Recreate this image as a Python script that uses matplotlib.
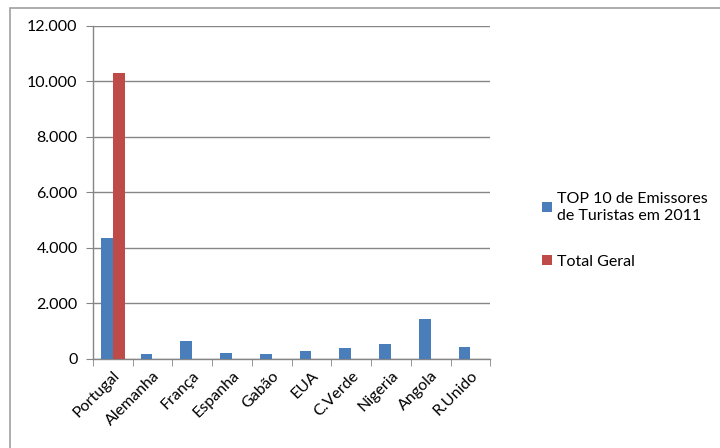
import matplotlib.pyplot as plt
import matplotlib.patches as patches
import numpy as np
from matplotlib.ticker import FuncFormatter

plt.rcParams['font.family'] = ['Lato', 'DejaVu Sans']

# dados
paises = ['Portugal', 'Alemanha', 'França', 'Espanha', 'Gabão', 'EUA',
          'C.Verde', 'Nigeria', 'Angola', 'R.Unido']
top10 = [4350, 180, 650, 200, 170, 280, 400, 540, 1450, 430]
total_geral = [10300, np.nan, np.nan, np.nan, np.nan, np.nan, np.nan, np.nan, np.nan, np.nan]

azul = '#4a7ebb'
vermelho = '#be4b48'
cinza = '#868686'

fig = plt.figure(figsize=(7.2, 4.48), dpi=100)
ax = fig.add_axes([0.129, 0.199, 0.552, 0.743])

# moldura exterior
fig.patches.append(patches.Rectangle((10/720, -0.1), 1.2, 1.1 - 8/448, transform=fig.transFigure,
                                     fill=False, edgecolor='#a0a0a0', linewidth=1.2))

x = np.arange(len(paises))
w = 0.3
ax.bar(x - w/2, top10, w, color=azul, label='TOP 10 de Emissores\nde Turistas em 2011', zorder=3)
ax.bar(x + w/2, total_geral, w, color=vermelho, label='Total Geral', zorder=3)

ax.set_xlim(-0.5, len(paises) - 0.5)
ax.set_ylim(0, 12000)
ax.set_yticks(np.arange(0, 12001, 2000))
ax.yaxis.set_major_formatter(FuncFormatter(lambda v, p: f'{int(v):,}'.replace(',', '.')))
ax.yaxis.grid(True, color=cinza, linewidth=1, zorder=0)

ax.set_xticks(x)
ax.set_xticklabels(paises, rotation=45, ha='right', rotation_mode='anchor', fontsize=11.5)
ax.set_xticks(np.arange(-0.5, len(paises)), minor=True)
ax.tick_params(axis='x', which='major', length=0, pad=7)
ax.tick_params(axis='x', which='minor', length=5, color=cinza, direction='out')
ax.tick_params(axis='y', length=5, color=cinza, labelsize=11.5, pad=6)

for s in ['top', 'right']:
    ax.spines[s].set_visible(False)
for s in ['left', 'bottom']:
    ax.spines[s].set_color(cinza)
    ax.spines[s].set_linewidth(1)

fig.legend(loc='upper left', bbox_to_anchor=(528/720, 1 - 178/448), frameon=False,
           handlelength=0.6, handleheight=0.6, handletextpad=0.3,
           labelspacing=2.0, fontsize=11.5)

fig.savefig('out.png', dpi=100)
